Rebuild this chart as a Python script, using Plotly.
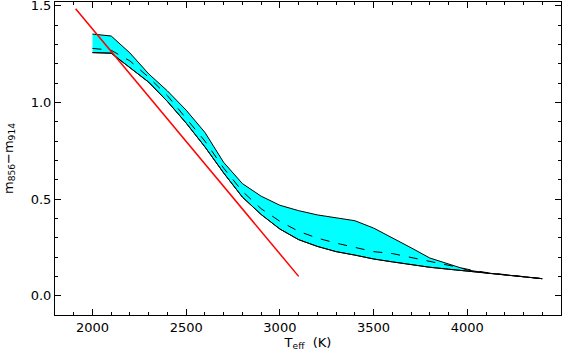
import plotly.graph_objects as go

# effective temperature grid (K)
teff = [2000, 2100, 2200, 2300, 2400, 2500, 2600, 2700, 2800, 2900, 3000, 3100,
        3200, 3300, 3400, 3500, 3600, 3700, 3800, 3900, 4000, 4100, 4200, 4300, 4400]

# colour envelope
upper = [1.354, 1.344, 1.256, 1.148, 1.06, 0.96, 0.845, 0.69, 0.58, 0.515, 0.468, 0.44,
         0.418, 0.402, 0.388, 0.35, 0.30, 0.248, 0.195, 0.165, 0.133, 0.118, 0.108, 0.098, 0.088]
lower = [1.258, 1.255, 1.18, 1.105, 1.005, 0.893, 0.77, 0.635, 0.51, 0.42, 0.345, 0.29,
         0.255, 0.228, 0.21, 0.19, 0.175, 0.16, 0.147, 0.137, 0.127, 0.117, 0.108, 0.098, 0.088]
middle = [1.28, 1.27, 1.215, 1.13, 1.035, 0.92, 0.8, 0.66, 0.54, 0.45, 0.385, 0.333,
          0.298, 0.272, 0.25, 0.228, 0.218, 0.198, 0.176, 0.155, 0.137, 0.12, 0.109, 0.098, 0.088]

# straight red reference line
line_t = [1910, 3100]
line_c = [1.485, 0.10]

fig = go.Figure()
fig.add_scatter(x=teff, y=lower, mode="lines", line=dict(color="black", width=1), showlegend=False)
fig.add_scatter(x=teff, y=upper, mode="lines", line=dict(color="black", width=1),
                fill="tonexty", fillcolor="#00ffff", showlegend=False)
# redraw edges on top of the fill
fig.add_scatter(x=teff, y=lower, mode="lines", line=dict(color="black", width=1), showlegend=False)
fig.add_scatter(x=teff, y=middle, mode="lines", line=dict(color="black", width=1, dash="dash"),
                showlegend=False)
fig.add_scatter(x=line_t, y=line_c, mode="lines", line=dict(color="red", width=1.5), showlegend=False)

axis_common = dict(
    showgrid=False, zeroline=False, showline=True, linecolor="black", linewidth=1,
    mirror="allticks", ticks="inside", ticklen=6, tickcolor="black", automargin=False,
    ticklabeloverflow="allow",
    tickfont=dict(family="DejaVu Sans", size=13, color="black"),
)

fig.update_layout(
    width=562, height=355,
    margin=dict(l=55, r=1, t=2, b=40),
    plot_bgcolor="white", paper_bgcolor="white",
    font=dict(family="DejaVu Sans", color="black"),
    hovermode=False,
    xaxis=dict(range=[1800, 4500], tickvals=[2000, 2500, 3000, 3500, 4000],
               minor=dict(dtick=100, ticks="inside", ticklen=3, tickcolor="black"),
               title=dict(text="T<sub>eff</sub>  (K)", font=dict(size=13), standoff=2),
               **axis_common),
    yaxis=dict(range=[-0.1, 1.52], tickvals=[0.0, 0.5, 1.0, 1.5], tickformat=".1f",
               minor=dict(dtick=0.1, ticks="inside", ticklen=3, tickcolor="black"),
               title=dict(text="m<sub>856</sub>\u2212m<sub>914</sub>", font=dict(size=13), standoff=14),
               **axis_common),
)

# drop the page's default body margin so the figure sits at the window's corner
fig.write_html("out.html", config={"displayModeBar": False},
               post_script="document.body.style.margin='0';")
